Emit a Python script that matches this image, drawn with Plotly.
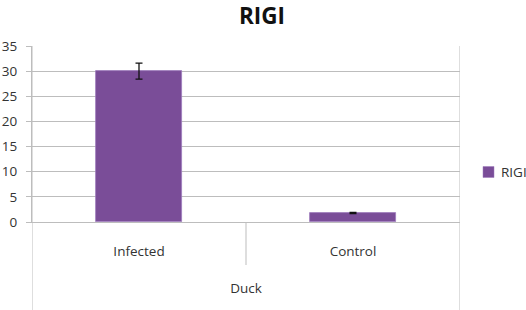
import plotly.graph_objects as go

categories = ["Infected", "Control"]
group_label = "Duck"
series_name = "RIGI"
values = [30.0, 1.8]
errors = [1.6, 0.12]
y_ticks = [0, 5, 10, 15, 20, 25, 30, 35]

W, H = 526, 310
L, R, T, B = 32, 66, 46, 88
pw, ph = W - L - R, H - T - B

xs = list(range(len(categories)))
bar_color = "#7a4d98"

fig = go.Figure()
fig.add_trace(go.Bar(
    x=xs, y=values, name=series_name, width=0.40, showlegend=False,
    marker=dict(color=bar_color, line=dict(color="#9d7bbd", width=0.8)),
    error_y=dict(type="data", array=errors, color="#111111", thickness=1.3, width=3.5),
))

grid = "#bdbdbd"
shapes = [
    dict(type="line", xref="x", yref="paper", x0=0.5, x1=0.5, y0=0, y1=-43 / ph,
         line=dict(color=grid, width=1)),
    dict(type="line", xref="x", yref="paper", x0=-0.5, x1=-0.5, y0=1, y1=-B / ph,
         line=dict(color=grid, width=1)),
    dict(type="line", xref="x", yref="paper", x0=1.5, x1=1.5, y0=1, y1=-B / ph,
         line=dict(color=grid, width=1)),
    # legend swatch
    dict(type="rect", xref="paper", yref="paper",
         x0=(483 - L) / pw, x1=(494 - L) / pw,
         y0=(222 - 177.5) / ph, y1=(222 - 166.5) / ph,
         fillcolor=bar_color, line=dict(color="#9d7bbd", width=0.5)),
]

annotations = [
    dict(text=series_name, xref="paper", yref="paper", x=(499 - L) / pw, xanchor="left",
         y=(222 - 172) / ph, yanchor="middle", showarrow=False,
         font=dict(size=13.5, color="#333333")),
]

fig.update_layout(
    width=W, height=H,
    margin=dict(l=L, r=R, t=T, b=B, autoexpand=False),
    paper_bgcolor="white", plot_bgcolor="white",
    font=dict(family="Open Sans, Noto Sans, sans-serif", size=13, color="#333333"),
    title=dict(text="<b>RIGI</b>", x=262 / W, xanchor="center", y=1 - 16 / H, yanchor="middle",
               font=dict(size=22.5, color="#111111", family="Open Sans, sans-serif")),
    showlegend=False,
    xaxis=dict(range=[-0.5, 1.5], tickmode="array", tickvals=xs, ticktext=categories,
               showgrid=False, zeroline=False, showline=True, linecolor=grid, ticks="",
               automargin=False,
               ticklabelstandoff=17, tickfont=dict(size=13.5, color="#333333"),
               title=dict(text=group_label, standoff=24, font=dict(size=13.5, color="#333333"))),
    yaxis=dict(range=[0, 35], tickmode="array", tickvals=y_ticks, automargin=False,
               showgrid=True, gridcolor=grid, gridwidth=1, zeroline=False,
               showline=True, linecolor=grid, ticks="outside", ticklen=5, tickcolor=grid,
               tickfont=dict(size=13.5, color="#333333"), ticklabelstandoff=6),
    shapes=shapes,
    annotations=annotations,
    bargap=0,
)

fig.write_html("out.html", config={"displayModeBar": False},
               post_script="document.body.style.margin='0';")
